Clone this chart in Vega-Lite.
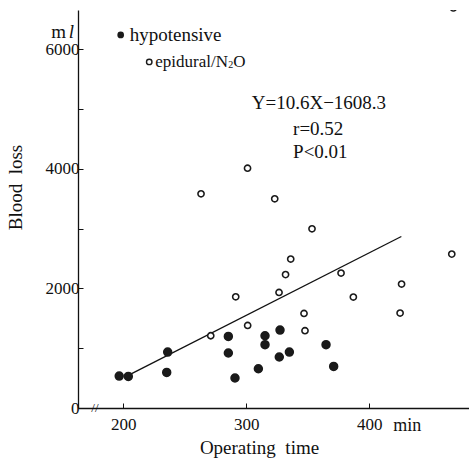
{
  "$schema": "https://vega.github.io/schema/vega-lite/v6.json",
  "width": 391,
  "height": 398,
  "autosize": {"type": "none"},
  "padding": {"left": 78, "top": 10, "right": 0, "bottom": 51},
  "background": "white",
  "config": {
    "view": {"stroke": null},
    "font": "Liberation Serif",
    "axis": {"grid": false, "domainColor": "#111", "tickColor": "#111", "labelColor": "#111", "titleColor": "#111", "labelFont": "Liberation Serif", "titleFont": "Liberation Serif", "titleFontWeight": "normal"},
    "text": {"font": "Liberation Serif", "color": "#111"}
  },
  "datasets": {
    "points": [
      {"group": "hypotensive", "time": 196.7, "loss": 535},
      {"group": "hypotensive", "time": 204.1, "loss": 528},
      {"group": "hypotensive", "time": 236.1, "loss": 936},
      {"group": "hypotensive", "time": 235.3, "loss": 595},
      {"group": "hypotensive", "time": 285.4, "loss": 1197},
      {"group": "hypotensive", "time": 285.4, "loss": 920},
      {"group": "hypotensive", "time": 290.8, "loss": 502},
      {"group": "hypotensive", "time": 309.8, "loss": 657},
      {"group": "hypotensive", "time": 315.2, "loss": 1209},
      {"group": "hypotensive", "time": 315.2, "loss": 1059},
      {"group": "hypotensive", "time": 327.4, "loss": 1304},
      {"group": "hypotensive", "time": 326.8, "loss": 853},
      {"group": "hypotensive", "time": 335.0, "loss": 936},
      {"group": "hypotensive", "time": 364.8, "loss": 1059},
      {"group": "hypotensive", "time": 371.0, "loss": 696},
      {"group": "epidural/N2O", "time": 263.2, "loss": 3584},
      {"group": "epidural/N2O", "time": 271.1, "loss": 1209},
      {"group": "epidural/N2O", "time": 291.4, "loss": 1861},
      {"group": "epidural/N2O", "time": 301.0, "loss": 4013},
      {"group": "epidural/N2O", "time": 301.1, "loss": 1381},
      {"group": "epidural/N2O", "time": 323.1, "loss": 3500},
      {"group": "epidural/N2O", "time": 326.6, "loss": 1933},
      {"group": "epidural/N2O", "time": 331.9, "loss": 2232},
      {"group": "epidural/N2O", "time": 336.1, "loss": 2492},
      {"group": "epidural/N2O", "time": 346.9, "loss": 1582},
      {"group": "epidural/N2O", "time": 347.7, "loss": 1293},
      {"group": "epidural/N2O", "time": 353.4, "loss": 2998},
      {"group": "epidural/N2O", "time": 377.0, "loss": 2258},
      {"group": "epidural/N2O", "time": 387.0, "loss": 1856},
      {"group": "epidural/N2O", "time": 426.2, "loss": 2074},
      {"group": "epidural/N2O", "time": 425.0, "loss": 1589},
      {"group": "epidural/N2O", "time": 467.0, "loss": 2575},
      {"group": "epidural/N2O", "time": 468.3, "loss": 6694}
    ],
    "fit": [
      {"time": 204, "loss": 545},
      {"time": 426, "loss": 2870}
    ],
    "one": [{}]
  },
  "layer": [
    {
      "data": {"name": "fit"},
      "mark": {"type": "line", "color": "#111", "strokeWidth": 1.3, "clip": true},
      "encoding": {
        "x": {
          "field": "time", "type": "quantitative",
          "scale": {"domain": [163.2, 481], "nice": false, "zero": false},
          "axis": {
            "values": [200, 300, 400],
            "tickSize": -5,
            "labelPadding": 13,
            "labelFontSize": 17,
            "title": "Operating\u2002time",
            "titleFontSize": 19,
            "titleX": 181,
            "titleY": 39,
            "titleAlign": "center",
            "titleBaseline": "middle",
            "domainWidth": 1.3
          }
        },
        "y": {
          "field": "loss", "type": "quantitative",
          "scale": {"domain": [0, 6660], "nice": false},
          "axis": {
            "values": [0, 1000, 2000, 3000, 4000, 5000, 6000],
            "format": "d",
            "labelExpr": "datum.value % 2000 == 0 ? datum.label : ''",
            "tickSize": -5,
            "labelPadding": 4,
            "labelFontSize": 17,
            "title": "Blood\u2002loss",
            "titleFontSize": 19,
            "titleX": -63,
            "titleY": 177,
            "titleAngle": -90,
            "titleAlign": "center",
            "titleBaseline": "middle",
            "domainWidth": 1.3
          }
        }
      }
    },
    {
      "data": {"name": "points"},
      "mark": {"type": "point", "clip": true, "strokeWidth": 1.6, "opacity": 1},
      "encoding": {
        "x": {"field": "time", "type": "quantitative"},
        "y": {"field": "loss", "type": "quantitative"},
        "shape": {"value": "circle"},
        "size": {"field": "group", "type": "nominal", "scale": {"domain": ["hypotensive", "epidural/N2O"], "range": [62, 38]}, "legend": null},
        "fill": {"field": "group", "type": "nominal", "scale": {"domain": ["hypotensive", "epidural/N2O"], "range": ["#1a1a1a", "white"]}, "legend": null},
        "stroke": {"value": "#1a1a1a"}
      }
    },
    {
      "data": {"name": "one"},
      "mark": {"type": "point", "filled": true, "color": "#1a1a1a", "size": 45, "opacity": 1},
      "encoding": {"x": {"datum": 197.9}, "y": {"datum": 6243}}
    },
    {
      "data": {"name": "one"},
      "mark": {"type": "point", "filled": false, "color": "#1a1a1a", "size": 30, "strokeWidth": 1.4, "opacity": 1},
      "encoding": {"x": {"datum": 221.1}, "y": {"datum": 5791}}
    },
    {
      "data": {"name": "one"},
      "mark": {"type": "text", "align": "left", "baseline": "middle", "fontSize": 19, "dx": 9, "text": "hypotensive"},
      "encoding": {"x": {"datum": 197.9}, "y": {"datum": 6243}}
    },
    {
      "data": {"name": "one"},
      "mark": {"type": "text", "align": "left", "baseline": "middle", "fontSize": 17, "dx": 6, "text": "epidural/N"},
      "encoding": {"x": {"datum": 221.1}, "y": {"datum": 5791}}
    },
    {
      "data": {"name": "one"},
      "mark": {"type": "text", "align": "left", "baseline": "middle", "fontSize": 10, "dx": 79, "dy": 3, "text": "2"},
      "encoding": {"x": {"datum": 221.1}, "y": {"datum": 5791}}
    },
    {
      "data": {"name": "one"},
      "mark": {"type": "text", "align": "left", "baseline": "middle", "fontSize": 17, "dx": 84, "text": "O"},
      "encoding": {"x": {"datum": 221.1}, "y": {"datum": 5791}}
    },
    {
      "data": {"name": "one"},
      "mark": {"type": "text", "align": "left", "baseline": "middle", "fontSize": 19, "text": "Y=10.6X−1608.3"},
      "encoding": {"x": {"datum": 304.4}, "y": {"datum": 5105}}
    },
    {
      "data": {"name": "one"},
      "mark": {"type": "text", "align": "left", "baseline": "middle", "fontSize": 19, "text": "r=0.52"},
      "encoding": {"x": {"datum": 338}, "y": {"datum": 4671}}
    },
    {
      "data": {"name": "one"},
      "mark": {"type": "text", "align": "left", "baseline": "middle", "fontSize": 19, "text": "P<0.01"},
      "encoding": {"x": {"datum": 338}, "y": {"datum": 4286}}
    },
    {
      "data": {"name": "one"},
      "mark": {"type": "text", "align": "left", "baseline": "top", "fontSize": 18, "dx": 24, "dy": 9, "text": "min"},
      "encoding": {"x": {"datum": 400}, "y": {"datum": 0}}
    },
    {
      "data": {"name": "one"},
      "mark": {"type": "text", "align": "right", "baseline": "middle", "fontSize": 19, "dx": -12, "text": "m"},
      "encoding": {"x": {"datum": 163.2}, "y": {"datum": 6300}}
    },
    {
      "data": {"name": "one"},
      "mark": {"type": "text", "align": "right", "baseline": "middle", "fontSize": 19, "fontStyle": "italic", "dx": -4, "text": "l"},
      "encoding": {"x": {"datum": 163.2}, "y": {"datum": 6300}}
    },
    {
      "data": {"name": "one"},
      "mark": {"type": "text", "align": "center", "baseline": "middle", "fontSize": 13, "text": "//"},
      "encoding": {"x": {"datum": 177}, "y": {"datum": 0}}
    }
  ]
}
